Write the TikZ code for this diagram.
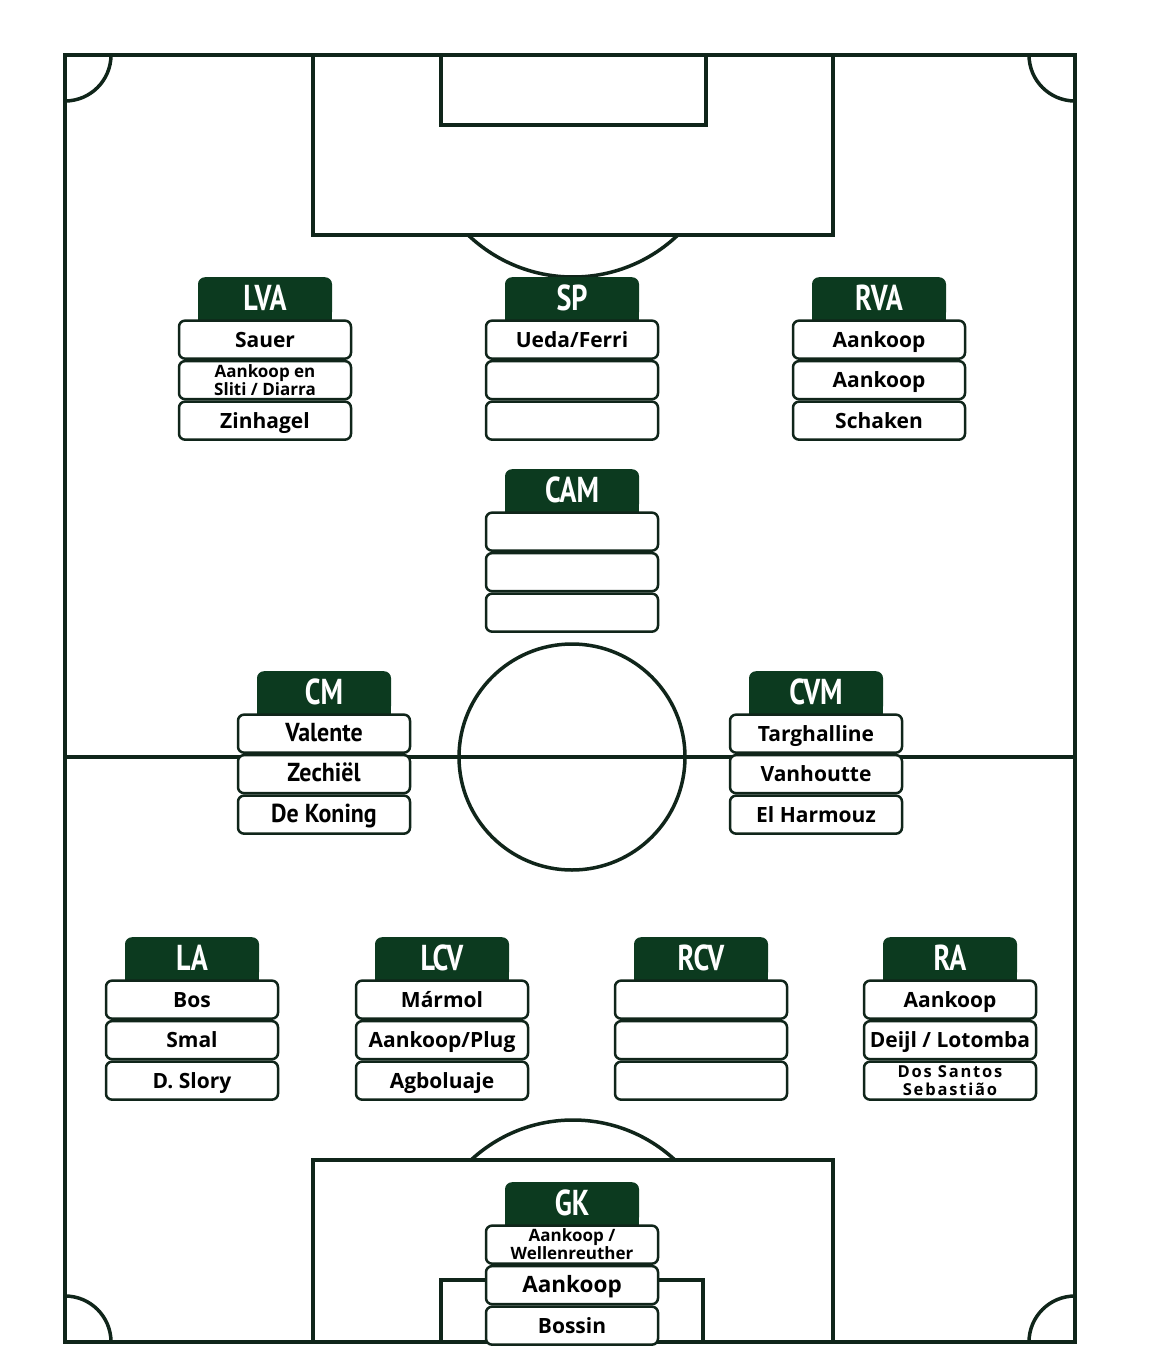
\documentclass[tikz,border=0pt]{standalone}
\usepackage{fontspec}
\setmainfont{Open Sans}
\newfontfamily\hdrfont[FakeStretch=0.78]{PT Sans}
\newfontfamily\condfont[FakeStretch=0.92]{PT Sans}
\definecolor{linec}{HTML}{10251A}
\definecolor{hdrc}{HTML}{0C3A1F}
\newcommand\twol[2]{\fontsize{17}{16.2}\selectfont\raisebox{1pt}{\begin{tabular}{@{}c@{}}#1\\#2\end{tabular}}}
\newcommand\twolsp[2]{\fontsize{16.5}{16.2}\selectfont\addfontfeature{LetterSpace=11}\raisebox{1pt}{\begin{tabular}{@{}c@{}}#1\\#2\end{tabular}}}
\newcommand\condtext{\condfont\fontsize{26}{28}\selectfont}
\newcommand\bigname{\fontsize{22.5}{24}\selectfont}
\tikzset{
  fieldline/.style={draw=linec, line width=3.5pt},
  posrow/.style={draw=linec, line width=2.5pt, fill=white, rounded corners=6pt,
    minimum width=172pt, minimum height=38pt, inner sep=0pt, align=center,
    text height=16pt, text depth=1pt,
    anchor=north, font=\bfseries\fontsize{21}{23}\selectfont},
  poshdr/.style={fill=hdrc, rounded corners=7pt, minimum width=134pt,
    minimum height=42pt, inner sep=0pt, text=white, anchor=north,
    font=\hdrfont\bfseries\fontsize{36}{36}\selectfont},
}
\newcommand\posblock[7]{%
  \fill[hdrc] ({#2-67},{#3+20}) rectangle ({#2+67},{#3+50});
  \node[poshdr] (#1h) at (#2,#3) {#4};
  \node[posrow] (#1a) at (#1h.south) {#5};
  \node[posrow] (#1b) at (#1a.south) {#6};
  \node[posrow] (#1c) at (#1b.south) {#7};
}
\begin{document}
\begin{tikzpicture}[x=1pt,y=-1pt]
\useasboundingbox (0,0) rectangle (1148,1370);
\fill[white] (0,0) rectangle (1148,1370);
% field
\draw[fieldline] (65,55) rectangle (1075,1342);
\draw[fieldline] (65,757) -- (1075,757);
\draw[fieldline] (572,757) circle[radius=113];
% top penalty area
\draw[fieldline] (313,55) rectangle (833,235);
\draw[fieldline] (441,55) rectangle (706,125);
\begin{scope}
  \clip (300,235) rectangle (850,400);
  \draw[fieldline] (573,125) circle[radius=152];
\end{scope}
% bottom penalty area
\draw[fieldline] (313,1160) rectangle (833,1342);
\draw[fieldline] (441,1280) rectangle (703,1342);
\begin{scope}
  \clip (300,1000) rectangle (850,1160);
  \draw[fieldline] (573,1270) circle[radius=150];
\end{scope}
% corners
\begin{scope}
  \clip (65,55) rectangle (1075,1342);
  \draw[fieldline] (65,55) circle[radius=46];
  \draw[fieldline] (1075,55) circle[radius=46];
  \draw[fieldline] (65,1342) circle[radius=46];
  \draw[fieldline] (1075,1342) circle[radius=46];
\end{scope}
% positions
\posblock{lva}{265}{277}{LVA}{Sauer}{\twol{Aankoop en}{Sliti / Diarra}}{Zinhagel}
\posblock{sp}{572}{277}{SP}{Ueda/Ferri}{}{}
\posblock{rva}{879}{277}{RVA}{Aankoop}{Aankoop}{Schaken}
\posblock{cam}{572}{469}{CAM}{}{}{}
\posblock{cm}{324}{671}{CM}{\condtext Valente}{\condtext Zechiël}{\condtext De Koning}
\posblock{cvm}{816}{671}{CVM}{Targhalline}{Vanhoutte}{El Harmouz}
\posblock{la}{192}{937}{LA}{Bos}{Smal}{D. Slory}
\posblock{lcv}{442}{937}{LCV}{Mármol}{Aankoop/Plug}{Agboluaje}
\posblock{rcv}{701}{937}{RCV}{}{}{}
\posblock{ra}{950}{937}{RA}{Aankoop}{Deijl / Lotomba}{\twolsp{Dos Santos}{Sebastião}}
\posblock{gk}{572}{1182}{GK}{\twol{Aankoop /}{Wellenreuther}}{\bigname Aankoop}{Bossin}
\end{tikzpicture}
\end{document}
